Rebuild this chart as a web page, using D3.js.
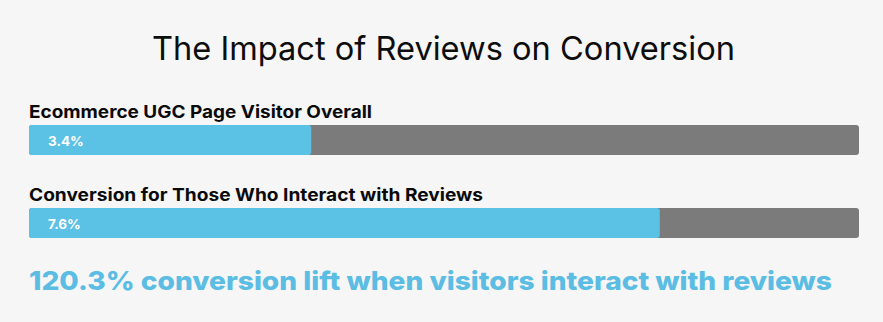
<!DOCTYPE html>
<html>
<head>
<meta charset="utf-8">
<script src="https://cdn.jsdelivr.net/npm/d3@7"></script>
<style>
  body { margin: 0; background: #f6f6f6; }
  svg { display: block; font-family: Inter, "Noto Sans", sans-serif; }
</style>
</head>
<body>
<script>
// chart data
var title = "The Impact of Reviews on Conversion";
var categories = ["Ecommerce UGC Page Visitor Overall", "Conversion for Those Who Interact with Reviews"];
var values = [3.4, 7.6];
var valueLabels = ["3.4%", "7.6%"];
var maxValue = 10;
var footnote = "120.3% conversion lift when visitors interact with reviews";

var width = 883, height = 322;
var margin = {left: 29, right: 24};
var barH = 30;
var rowTop = [125, 208];
// the original uses a wider typeface, so stretch text to its widths
var labelLen = [343, 454];

var svg = d3.select("body").append("svg")
    .attr("width", width)
    .attr("height", height);

svg.append("rect")
    .attr("width", width)
    .attr("height", height)
    .attr("fill", "#f6f6f6");

var x = d3.scaleLinear()
    .domain([0, maxValue])
    .range([margin.left, width - margin.right]);

// title
svg.append("text")
    .attr("x", width / 2 + 2)
    .attr("y", 60)
    .attr("text-anchor", "middle")
    .attr("font-size", 32.5)
    .attr("font-weight", 400)
    .attr("fill", "#0d0d0d")
    .attr("textLength", 583)
    .attr("lengthAdjust", "spacingAndGlyphs")
    .text(title);

var rows = svg.selectAll("g.row")
    .data(categories)
    .enter()
    .append("g")
    .attr("class", "row")
    .attr("transform", function(d, i) { return "translate(0," + rowTop[i] + ")"; });

// category label
rows.append("text")
    .attr("x", margin.left)
    .attr("y", -7)
    .attr("font-size", 17.5)
    .attr("font-weight", 700)
    .attr("fill", "#0a0a0a")
    .attr("textLength", function(d, i) { return labelLen[i]; })
    .attr("lengthAdjust", "spacingAndGlyphs")
    .text(function(d) { return d; });

// background track
rows.append("rect")
    .attr("x", x(0))
    .attr("width", x(maxValue) - x(0))
    .attr("height", barH)
    .attr("rx", 3)
    .attr("fill", "#7b7b7b");

// value bar
rows.append("rect")
    .attr("x", x(0))
    .attr("width", function(d, i) { return x(values[i]) - x(0); })
    .attr("height", barH)
    .attr("rx", 3)
    .attr("fill", "#5bc1e5");

rows.append("text")
    .attr("x", x(0) + 19)
    .attr("y", 21)
    .attr("font-size", 13.5)
    .attr("font-weight", 700)
    .attr("fill", "#fff")
    .text(function(d, i) { return valueLabels[i]; });

// footnote
svg.append("text")
    .attr("x", margin.left)
    .attr("y", 290)
    .attr("font-size", 26)
    .attr("font-weight", 800)
    .attr("fill", "#5bbde3")
    .attr("textLength", 803)
    .attr("lengthAdjust", "spacingAndGlyphs")
    .text(footnote);
</script>
</body>
</html>
